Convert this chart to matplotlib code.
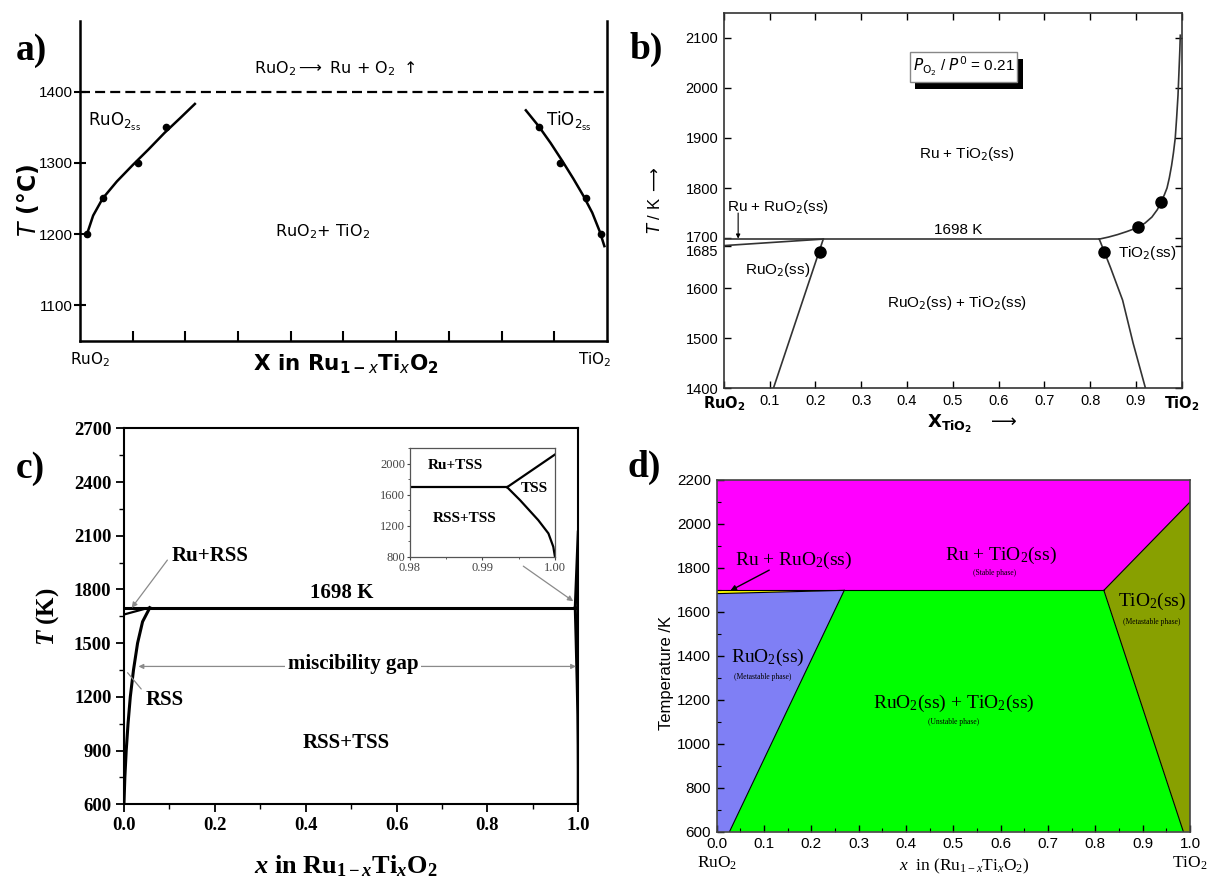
import numpy as np
import matplotlib
matplotlib.use("Agg")
import matplotlib.pyplot as plt
import matplotlib.transforms as mtransforms
from matplotlib.patches import Rectangle, Polygon
from matplotlib.ticker import MultipleLocator

plt.rcParams['mathtext.fontset'] = 'custom'
plt.rcParams['mathtext.rm'] = 'Liberation Serif'
plt.rcParams['mathtext.it'] = 'Liberation Serif:italic'
plt.rcParams['mathtext.bf'] = 'Liberation Serif:bold'
plt.rcParams['mathtext.bfit'] = 'Liberation Serif:italic:bold'

SANS = 'Liberation Sans'
SERIF = 'Liberation Serif'

# --- (a) experimental solvus, T in degC ---
a_ru_pts_x = [0.014, 0.043, 0.111, 0.164]
a_ru_pts_T = [1200, 1250, 1300, 1350]
a_ru_curve_x = [0.012, 0.025, 0.043, 0.070, 0.100, 0.130, 0.160, 0.190, 0.218]
a_ru_curve_T = [1197, 1226, 1250, 1274, 1297, 1319, 1342, 1363, 1383]
a_ti_pts_x = [0.871, 0.911, 0.960, 0.988]
a_ti_pts_T = [1350, 1300, 1250, 1200]
a_ti_curve_x = [0.846, 0.870, 0.893, 0.915, 0.936, 0.955, 0.972, 0.986, 0.995]
a_ti_curve_T = [1374, 1352, 1328, 1303, 1278, 1254, 1230, 1204, 1183]
a_decomp_T = 1400

# --- (b) calculated diagram at P(O2)/P0 = 0.21 ---
b_eut_T = 1698
b_eut_x = [0.0, 0.820]
b_wedge_x = [0.0, 0.217]
b_wedge_T = [1685, 1698]
b_ru_solvus_x = [0.108, 0.217]
b_ru_solvus_T = [1400, 1698]
b_ti_solvus_x = [0.820, 0.845, 0.871, 0.894, 0.921]
b_ti_solvus_T = [1698, 1640, 1576, 1490, 1400]
b_ti_upper_x = [0.820, 0.840, 0.860, 0.880, 0.904, 0.920, 0.935, 0.947, 0.955, 0.962,
                0.968, 0.973, 0.978, 0.982, 0.986, 0.989, 0.992, 0.994, 0.996, 0.997]
b_ti_upper_T = [1698, 1702, 1707, 1713, 1721, 1730, 1742, 1757, 1772, 1786,
                1800, 1820, 1845, 1870, 1900, 1940, 1985, 2030, 2075, 2105]
b_pts_x = [0.210, 0.830, 0.904, 0.955]
b_pts_T = [1672, 1672, 1722, 1773]
b_yticks = [1400, 1500, 1600, 1685, 1700, 1800, 1900, 2000, 2100]

# --- (c) miscibility gap, full range + Ti-rich inset ---
c_eut_T = 1698
c_eut_x = [0.0, 0.9934]
c_rss_x = [0.0, 0.002, 0.005, 0.009, 0.014, 0.021, 0.030, 0.041, 0.057]
c_rss_T = [600, 750, 900, 1050, 1200, 1350, 1500, 1620, 1698]
c_wedge_x = [0.0, 0.055]
c_wedge_T = [1660, 1698]
c_tss_upper_x = [0.9934, 1.0]
c_tss_upper_T = [1698, 2120]
c_tss_lower_x = [0.9934, 0.9952, 0.9977, 0.9991, 0.99977, 1.0, 1.0]
c_tss_lower_T = [1698, 1529, 1272, 1101, 929, 800, 600]

# --- (d) coloured phase regions ---
d_eut_T = 1698
d_T_range = [600, 2200]
d_ru_solvus_x = [0.027, 0.2695]
d_ru_solvus_T = [600, 1698]
d_ti_solvus_x = [0.986, 0.818]
d_ti_solvus_T = [600, 1698]
d_ti_upper_x = [0.818, 1.0]
d_ti_upper_T = [1698, 2100]
d_wedge_x = [0.0, 0.2695]
d_wedge_T = [1683, 1698]


def style_labels(labels, family, size, weight='normal'):
    for lab in labels:
        lab.set_family(family)
        lab.set_fontsize(size)
        lab.set_fontweight(weight)


fig = plt.figure(figsize=(12.08, 8.82), dpi=100)

# ================= (a) =================
ax = fig.add_axes([0.0662, 0.6137, 0.4363, 0.3628])
ax.set_xlim(0, 1)
ax.set_ylim(1050, 1500)
ax.spines['top'].set_visible(False)
for s in ('left', 'right', 'bottom'):
    ax.spines[s].set_linewidth(1.8)
ax.axhline(a_decomp_T, color='k', lw=1.6, ls=(0, (4.5, 2.3)))
ax.plot(a_ru_curve_x, a_ru_curve_T, color='k', lw=1.8)
ax.plot(a_ti_curve_x, a_ti_curve_T, color='k', lw=1.8)
ax.plot(a_ru_pts_x, a_ru_pts_T, 'o', color='k', ms=4.5)
ax.plot(a_ti_pts_x, a_ti_pts_T, 'o', color='k', ms=4.5)
ax.set_yticks([1100, 1200, 1300, 1400])
ax.set_xticks([0.1, 0.2, 0.3, 0.4, 0.5, 0.6, 0.7, 0.8, 0.9])
ax.tick_params(axis='y', direction='inout', length=8, width=1.5, pad=1)
ax.tick_params(axis='x', direction='in', length=7, width=1.5, labelbottom=False)
style_labels(ax.get_yticklabels(), SANS, 11)
mt = dict(math_fontfamily='dejavusans', family='DejaVu Sans')
ax.text(0.484, 1432, r"RuO$_2$$\longrightarrow$ Ru + O$_2$ $\uparrow$",
        ha='center', va='center', fontsize=11.5, **mt)
ax.text(0.015, 1357, r"RuO$_{2_{\mathrm{ss}}}$", ha='left', va='center', fontsize=12, **mt)
ax.text(0.884, 1358, r"TiO$_{2_{\mathrm{ss}}}$", ha='left', va='center', fontsize=12, **mt)
ax.text(0.46, 1203, r"RuO$_2$+ TiO$_2$", ha='center', va='center', fontsize=11.5, **mt)
ax.text(0.019, -0.06, r"RuO$_2$", transform=ax.transAxes, ha='center', va='center',
        fontsize=11, **mt)
ax.text(0.977, -0.06, r"TiO$_2$", transform=ax.transAxes, ha='center', va='center',
        fontsize=11, **mt)
ax.text(0.505, -0.072, r"X in Ru$_{\mathbf{1-}\mathbf{\mathit{x}}}$Ti$_{\mathbf{\mathit{x}}}$O$_{\mathbf{2}}$",
        transform=ax.transAxes, ha='center', va='center', fontsize=15.5,
        fontweight='bold', **mt)
ax.text(-0.099, 0.44, r"$T$ (°C)", transform=ax.transAxes, rotation=90,
        ha='center', va='center', fontsize=17, fontweight='bold', **mt)

# ================= (b) =================
ax = fig.add_axes([0.5993, 0.5597, 0.3789, 0.4259])
ax.set_xlim(0, 1)
ax.set_ylim(1400, 2150)
for s in ax.spines.values():
    s.set_linewidth(1.2)
    s.set_color('#333333')
lc = '#333333'
ax.plot(b_eut_x, [b_eut_T, b_eut_T], color=lc, lw=1.2)
ax.plot(b_wedge_x, b_wedge_T, color=lc, lw=1.2)
ax.plot(b_ru_solvus_x, b_ru_solvus_T, color=lc, lw=1.2)
ax.plot(b_ti_solvus_x, b_ti_solvus_T, color=lc, lw=1.2)
ax.plot(b_ti_upper_x, b_ti_upper_T, color=lc, lw=1.2)
ax.plot(b_pts_x, b_pts_T, 'o', color='k', ms=8)
ax.set_xticks(np.round(np.arange(0, 1.01, 0.1), 1))
ax.set_xticklabels([r"$\mathbf{RuO_2}$"] + ["%.1f" % v for v in np.arange(0.1, 0.95, 0.1)]
                   + [r"$\mathbf{TiO_2}$"])
ax.set_yticks(b_yticks)
ax.set_yticklabels([str(v) for v in b_yticks])
ax.tick_params(direction='in', top=True, right=True, length=5, width=1, pad=4)
style_labels(ax.get_xticklabels() + ax.get_yticklabels(), SANS, 10.5)
for lab in ax.get_xticklabels():
    lab.set_math_fontfamily('dejavusans')
for lab in ax.get_yticklabels():
    if lab.get_text() == '1700':
        lab.set_transform(lab.get_transform() +
                          mtransforms.ScaledTranslation(0, 1.0 / 72, fig.dpi_scale_trans))
    if lab.get_text() == '1685':
        lab.set_transform(lab.get_transform() +
                          mtransforms.ScaledTranslation(0, -3.5 / 72, fig.dpi_scale_trans))
mb = dict(math_fontfamily='dejavusans', family=SANS)
ax.text(0.118, 1763, r"Ru + RuO$_2$(ss)", ha='center', va='center', fontsize=11, **mb)
ax.annotate('', xy=(0.031, 1699), xytext=(0.031, 1750),
            arrowprops=dict(arrowstyle='-|>', lw=0.8, color='k', mutation_scale=6,
                            shrinkA=0, shrinkB=0))
ax.text(0.512, 1716, "1698 K", ha='center', va='center', fontsize=11, **mb)
ax.text(0.117, 1636, r"RuO$_2$(ss)", ha='center', va='center', fontsize=11, **mb)
ax.text(0.925, 1670, r"TiO$_2$(ss)", ha='center', va='center', fontsize=11, **mb)
ax.text(0.531, 1868, r"Ru + TiO$_2$(ss)", ha='center', va='center', fontsize=11, **mb)
ax.text(0.51, 1571, r"RuO$_2$(ss) + TiO$_2$(ss)", ha='center', va='center', fontsize=11, **mb)
ax.add_patch(Rectangle((0.418, 1998), 0.235, 60, fc='k', ec='none', zorder=3))
ax.add_patch(Rectangle((0.406, 2012), 0.235, 60, fc='white', ec='#888888', lw=1, zorder=4))
ax.text(0.5235, 2042, r"$P_{\mathrm{O_2}}$ / $P^{0}$ = 0.21", ha='center', va='center',
        fontsize=11, zorder=5, **mb)
ax.text(-0.151, 0.501, r"$T$ / K $\longrightarrow$", transform=ax.transAxes, rotation=90,
        ha='center', va='center', fontsize=12, **mb)
ax.text(0.542, -0.094, r"$\mathbf{X}_{\mathbf{TiO_2}}$   $\longrightarrow$",
        transform=ax.transAxes, ha='center', va='center', fontsize=13, **mb)

# ================= (c) =================
ax = fig.add_axes([0.1026, 0.0881, 0.3761, 0.4263])
ax.set_xlim(0, 1)
ax.set_ylim(600, 2700)
for s in ax.spines.values():
    s.set_linewidth(1.5)
ax.plot(c_eut_x, [c_eut_T, c_eut_T], color='k', lw=2.2)
ax.plot(c_rss_x, c_rss_T, color='k', lw=2.2)
ax.plot(c_wedge_x, c_wedge_T, color='k', lw=1.6)
ax.plot(c_tss_upper_x, c_tss_upper_T, color='k', lw=2.2)
ax.plot(c_tss_lower_x, c_tss_lower_T, color='k', lw=2.2)
ax.set_yticks([600, 900, 1200, 1500, 1800, 2100, 2400, 2700])
ax.yaxis.set_minor_locator(MultipleLocator(150))
ax.set_xticks([0.0, 0.2, 0.4, 0.6, 0.8, 1.0])
ax.set_xticklabels(["0.0", "0.2", "0.4", "0.6", "0.8", "1.0"])
ax.xaxis.set_minor_locator(MultipleLocator(0.1))
ax.tick_params(which='major', direction='out', length=6, width=1.3, pad=3)
ax.tick_params(which='minor', direction='out', length=3.5, width=1)
style_labels(ax.get_xticklabels() + ax.get_yticklabels(), SERIF, 13.5, 'bold')
mc = dict(family=SERIF, fontweight='bold')
grey = '#8a8a8a'
ax.annotate("Ru+RSS", xy=(0.017, 1697), xytext=(0.19, 1986), ha='center', va='center',
            fontsize=15, **mc,
            arrowprops=dict(arrowstyle='-|>', color=grey, lw=0.9, mutation_scale=8,
                            relpos=(0, 0.6), shrinkA=2, shrinkB=0))
ax.annotate("RSS", xy=(0.008, 1335), xytext=(0.09, 1180), ha='center', va='center',
            fontsize=15, **mc,
            arrowprops=dict(arrowstyle='-', color=grey, lw=0.9, relpos=(0, 0.8),
                            shrinkA=2, shrinkB=0))
ax.annotate('', xy=(0.995, 1370), xytext=(0.032, 1370),
            arrowprops=dict(arrowstyle='<|-|>', color=grey, lw=0.9, mutation_scale=7,
                            shrinkA=0, shrinkB=0))
ax.text(0.505, 1385, "miscibility gap", ha='center', va='center', fontsize=15,
        bbox=dict(fc='white', ec='none', pad=2), zorder=5, **mc)
ax.text(0.48, 1782, "1698 K", ha='center', va='center', fontsize=15, **mc)
ax.text(0.49, 940, "RSS+TSS", ha='center', va='center', fontsize=15, **mc)
ax.annotate('', xy=(0.989, 1734), xytext=(0.879, 1930),
            arrowprops=dict(arrowstyle='-|>', color=grey, lw=0.9, mutation_scale=8,
                            shrinkA=0, shrinkB=0))
ax.text(-0.167, 0.498, r"$\mathbfit{T}$ (K)", transform=ax.transAxes, rotation=90,
        ha='center', va='center', fontsize=18, **mc)
ax.text(0.489, -0.164, r"$\mathbfit{x}$ in Ru$_{\mathbf{1-}\mathbfit{x}}$Ti$_{\mathbfit{x}}$O$_{\mathbf{2}}$",
        transform=ax.transAxes, ha='center', va='center', fontsize=19, **mc)

# inset: Ti-rich end
ins = fig.add_axes([0.3394, 0.3688, 0.12, 0.1229])
ins.set_xlim(0.98, 1.0)
ins.set_ylim(800, 2200)
for s in ins.spines.values():
    s.set_linewidth(0.9)
    s.set_color('#555555')
ins.plot([0.98, c_eut_x[1]], [c_eut_T, c_eut_T], color='k', lw=1.6)
ins.plot(c_tss_upper_x, c_tss_upper_T, color='k', lw=1.6)
ins.plot(c_tss_lower_x, c_tss_lower_T, color='k', lw=1.6)
ins.set_yticks([800, 1200, 1600, 2000])
ins.yaxis.set_minor_locator(MultipleLocator(200))
ins.set_xticks([0.98, 0.99, 1.0])
ins.set_xticklabels(["0.98", "0.99", "1.00"])
ins.xaxis.set_minor_locator(MultipleLocator(0.005))
ins.tick_params(which='major', direction='out', length=2.5, width=0.8, pad=1,
                colors='#444444')
ins.tick_params(which='minor', direction='out', length=1.5, width=0.6, colors='#444444')
style_labels(ins.get_xticklabels() + ins.get_yticklabels(), SERIF, 9)
ins.text(0.9862, 1980, "Ru+TSS", ha='center', va='center', fontsize=11, **mc)
ins.text(0.9972, 1685, "TSS", ha='center', va='center', fontsize=11, **mc)
ins.text(0.9876, 1298, "RSS+TSS", ha='center', va='center', fontsize=11, **mc)

# ================= (d) =================
ax = fig.add_axes([0.5933, 0.0570, 0.3918, 0.3988])
ax.set_xlim(0, 1)
ax.set_ylim(d_T_range)
Tlo, Thi = d_T_range
regions = [
    ('#FF00FF', [(0, d_eut_T), (d_ti_upper_x[0], d_ti_upper_T[0]),
                 (d_ti_upper_x[1], d_ti_upper_T[1]), (1, Thi), (0, Thi)]),
    ('#88A000', [(d_ti_upper_x[0], d_ti_upper_T[0]), (d_ti_upper_x[1], d_ti_upper_T[1]),
                 (1, Tlo), (d_ti_solvus_x[0], d_ti_solvus_T[0])]),
    ('#00FF00', [(d_ru_solvus_x[1], d_ru_solvus_T[1]), (d_ti_solvus_x[1], d_ti_solvus_T[1]),
                 (d_ti_solvus_x[0], d_ti_solvus_T[0]), (d_ru_solvus_x[0], d_ru_solvus_T[0])]),
    ('#7F7FF5', [(d_wedge_x[0], d_wedge_T[0]), (d_ru_solvus_x[1], d_ru_solvus_T[1]),
                 (d_ru_solvus_x[0], d_ru_solvus_T[0]), (0, Tlo)]),
    ('#FFFF00', [(0, d_eut_T), (d_wedge_x[1], d_wedge_T[1]), (d_wedge_x[0], d_wedge_T[0])]),
]
for color, verts in regions:
    ax.add_patch(Polygon(verts, closed=True, fc=color, ec='none', zorder=1))
ax.plot([0, d_ti_solvus_x[1]], [d_eut_T, d_eut_T], color='k', lw=0.8, zorder=2)
ax.plot(d_wedge_x, d_wedge_T, color='k', lw=0.8, zorder=2)
ax.plot(d_ru_solvus_x, d_ru_solvus_T, color='k', lw=0.8, zorder=2)
ax.plot(d_ti_solvus_x, d_ti_solvus_T, color='k', lw=0.8, zorder=2)
ax.plot(d_ti_upper_x, d_ti_upper_T, color='k', lw=0.8, zorder=2)
for s in ax.spines.values():
    s.set_linewidth(1.2)
    s.set_color('#444444')
ax.set_yticks([600, 800, 1000, 1200, 1400, 1600, 1800, 2000, 2200])
ax.yaxis.set_minor_locator(MultipleLocator(100))
ax.set_xticks(np.round(np.arange(0, 1.01, 0.1), 1))
ax.set_xticklabels(["%.1f" % v for v in np.arange(0, 1.01, 0.1)])
ax.xaxis.set_minor_locator(MultipleLocator(0.05))
ax.tick_params(which='major', direction='in', length=5, width=1, pad=4)
ax.tick_params(which='minor', direction='in', length=3, width=0.8)
style_labels(ax.get_xticklabels() + ax.get_yticklabels(), SANS, 11)
md = dict(family=SERIF)
ax.text(0.60, 1858, r"Ru + TiO$_2$(ss)", ha='center', va='center', fontsize=14, **md)
ax.text(0.588, 1778, "(Stable phase)", ha='center', va='center', fontsize=5.5, **md)
ax.text(0.162, 1836, r"Ru + RuO$_2$(ss)", ha='center', va='center', fontsize=14, **md)
ax.annotate('', xy=(0.029, 1697), xytext=(0.111, 1790),
            arrowprops=dict(arrowstyle='-|>', color='k', lw=1, mutation_scale=8,
                            shrinkA=0, shrinkB=0))
ax.text(0.92, 1646, r"TiO$_2$(ss)", ha='center', va='center', fontsize=14, **md)
ax.text(0.92, 1555, "(Metastable phase)", ha='center', va='center', fontsize=5.5, **md)
ax.text(0.109, 1393, r"RuO$_2$(ss)", ha='center', va='center', fontsize=14, **md)
ax.text(0.097, 1302, "(Metastable phase)", ha='center', va='center', fontsize=5.5, **md)
ax.text(0.501, 1184, r"RuO$_2$(ss) + TiO$_2$(ss)", ha='center', va='center', fontsize=14, **md)
ax.text(0.5, 1097, "(Unstable phase)", ha='center', va='center', fontsize=5.5, **md)
ax.text(-0.107, 0.451, "Temperature /K", transform=ax.transAxes, rotation=90,
        ha='center', va='center', fontsize=12, family=SANS)
ax.text(0.522, -0.0995, r"$x$  in (Ru$_{1-x}$Ti$_x$O$_2$)", transform=ax.transAxes,
        ha='center', va='center', fontsize=12.5, **md)
ax.text(0.0, -0.089, r"RuO$_2$", transform=ax.transAxes, ha='center', va='center',
        fontsize=12.5, **md)
ax.text(1.0, -0.089, r"TiO$_2$", transform=ax.transAxes, ha='center', va='center',
        fontsize=12.5, **md)

# panel letters
for letter, (px, py) in {'a)': (0.0257, 0.943), 'b)': (0.535, 0.944),
                         'c)': (0.0248, 0.469), 'd)': (0.533, 0.470)}.items():
    fig.text(px, py, letter, ha='center', va='center', fontsize=27,
             fontweight='bold', family=SERIF)

fig.savefig('out.png', dpi=100)
